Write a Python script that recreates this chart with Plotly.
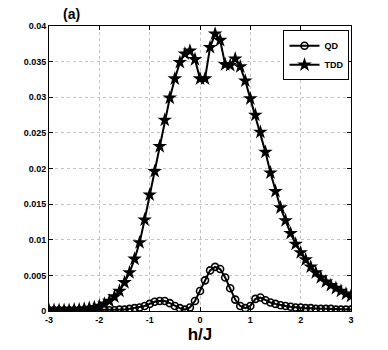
import plotly.graph_objects as go

# h/J grid and curves
h = [round(-3 + 0.1 * i, 1) for i in range(61)]

qd = [0.0001, 0.0001, 0.0001, 0.0001, 0.0001, 0.0001, 0.0001, 0.0001, 0.0001, 0.0001,
      0.0001, 0.0001, 0.0001, 0.0001, 0.0002, 0.0002, 0.0003, 0.0004, 0.0005, 0.0007,
      0.0010, 0.0013, 0.0014, 0.0014, 0.0011, 0.0007, 0.0004, 0.0002, 0.0005, 0.0014,
      0.0028, 0.0043, 0.0057, 0.0062, 0.0059, 0.0047, 0.0032, 0.0016, 0.0007, 0.0004,
      0.0007, 0.0017, 0.0019, 0.0015, 0.0012, 0.0010, 0.0008, 0.0007, 0.0006, 0.0005,
      0.0005, 0.0004, 0.0004, 0.0003, 0.0003, 0.0003, 0.0003, 0.0002, 0.0002, 0.0002,
      0.0002]

tdd = [0.0001, 0.0001, 0.0001, 0.0001, 0.0001, 0.0002, 0.0002, 0.0003, 0.0004, 0.0005,
       0.0007, 0.0010, 0.0014, 0.0020, 0.0028, 0.0040, 0.0054, 0.0073, 0.0096, 0.0128,
       0.0163, 0.0196, 0.0231, 0.0268, 0.0299, 0.0326, 0.0349, 0.0361, 0.0365, 0.0353,
       0.0326, 0.0326, 0.0370, 0.0389, 0.0380, 0.0346, 0.0345, 0.0354, 0.0343, 0.0323,
       0.0298, 0.0275, 0.0251, 0.0223, 0.0194, 0.0168, 0.0145, 0.0127, 0.0109, 0.0094,
       0.0082, 0.0072, 0.0062, 0.0054, 0.0047, 0.0041, 0.0036, 0.0032, 0.0028, 0.0024,
       0.0021]

x_ticks = [-3, -2, -1, 0, 1, 2, 3]
x_labels = ["-3", "-2", "-1", "0", "1", "2", "3"]
y_ticks = [0, 0.005, 0.01, 0.015, 0.02, 0.025, 0.03, 0.035, 0.04]
y_labels = ["0", "0.005", "0.01", "0.015", "0.02", "0.025", "0.03", "0.035", "0.04"]

FONT = "Liberation Sans, Arial, sans-serif"

fig = go.Figure()
fig.add_trace(go.Scatter(
    x=h, y=qd, name="QD", mode="lines+markers",
    line=dict(color="black", width=2),
    marker=dict(symbol="circle-open", size=7, color="black", line=dict(width=1.6)),
))
fig.add_trace(go.Scatter(
    x=h, y=tdd, name="TDD", mode="lines+markers",
    line=dict(color="black", width=2),
    marker=dict(symbol="star", size=11, color="black", line=dict(width=0)),
))

axis_common = dict(
    showline=True, linecolor="black", linewidth=1, mirror="ticks",
    ticks="inside", ticklen=4, tickcolor="black",
    showgrid=True, gridcolor="#c4c4c4", griddash="dot", gridwidth=1,
    zeroline=False, automargin=False,
    tickfont=dict(family=FONT, size=9, color="black", weight="bold"),
)

fig.update_layout(
    width=388, height=350,
    paper_bgcolor="white", plot_bgcolor="white",
    margin=dict(l=49, r=37, t=26, b=39),
    showlegend=True,
    legend=dict(
        x=0.995, y=0.985, xanchor="right", yanchor="top",
        bgcolor="white", bordercolor="black", borderwidth=1,
        font=dict(family=FONT, size=9, color="black", weight="bold"),
        itemwidth=30, tracegroupgap=0,
    ),
    xaxis=dict(range=[-3, 3], tickvals=x_ticks, ticktext=x_labels, **axis_common),
    yaxis=dict(range=[0, 0.04], tickvals=y_ticks, ticktext=y_labels, **axis_common),
    annotations=[
        dict(text="(a)", x=(71 - 49) / 302, y=1 + (26 - 14) / 285,
             xref="paper", yref="paper", showarrow=False,
             xanchor="center", yanchor="middle",
             font=dict(family=FONT, size=14, color="black", weight="bold")),
    ],
)
fig.update_xaxes(title=dict(text="h/J", standoff=1,
                            font=dict(family=FONT, size=17, color="black", weight="bold")))

# drop the browser's default 8px body margin so the figure sits at the page corner
fig.write_html("out.html",
               config={"displayModeBar": False},
               post_script="document.body.style.margin='0';document.body.style.overflow='hidden';")
